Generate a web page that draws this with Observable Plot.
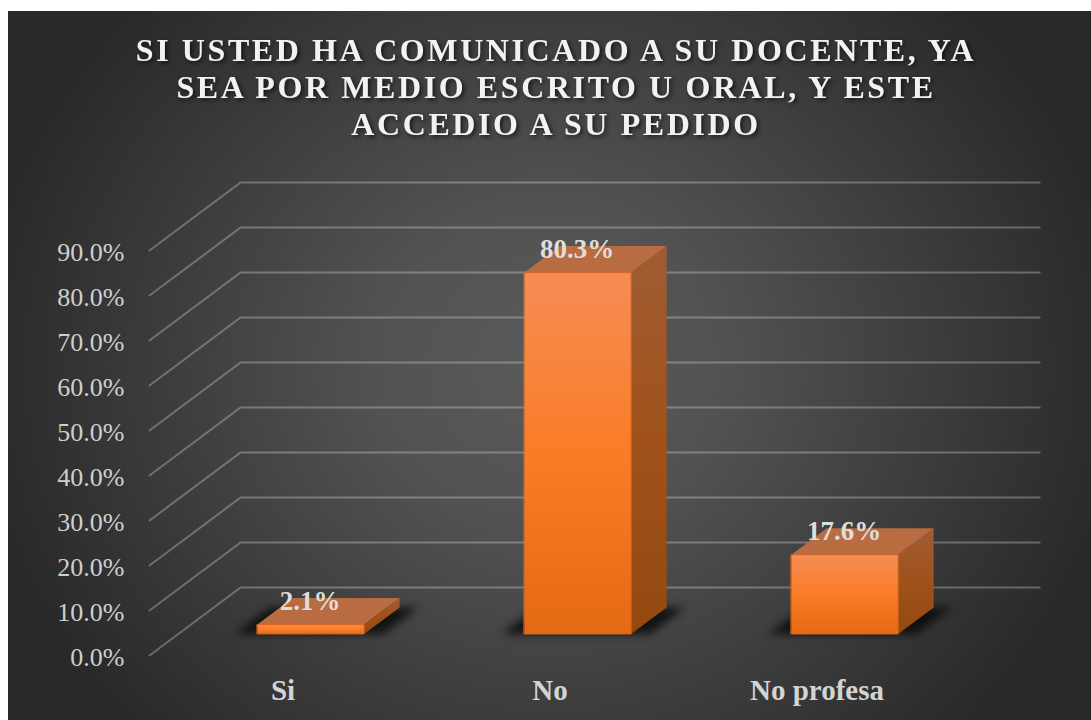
<!DOCTYPE html>
<html><head><meta charset="utf-8">
<script src="https://cdn.jsdelivr.net/npm/d3@7"></script>
<script src="https://cdn.jsdelivr.net/npm/@observablehq/plot@0.6"></script>
<style>html,body{margin:0;padding:0;background:#fff}</style>
</head><body><div id="chart"></div>
<script>
const titleLines = ["SI USTED HA COMUNICADO A SU DOCENTE, YA", "SEA POR MEDIO ESCRITO U ORAL, Y ESTE", "ACCEDIO A SU PEDIDO"];
const categories = ["Si", "No", "No profesa"];
const values = [2.1, 80.3, 17.6];
const valueLabels = ["2.1%", "80.3%", "17.6%"];
const axisTicks = [0, 10, 20, 30, 40, 50, 60, 70, 80, 90];
const slots = categories.map((_, i) => i);
const bars = categories.map((c, i) => ({c, i, v: values[i], label: valueLabels[i]}));

// oblique projection: depth 0 = front plane, 1 = back wall
const X = (x, d) => x + d * 0.341;
const Y = (v, d) => v + d * 15.1;
const D0 = 0.31, D1 = 0.70, HALF = 0.2;

const grid = axisTicks.flatMap(v => [
  {v, x: X(0, 0), y: Y(v, 0)},
  {v, x: X(0, 1), y: Y(v, 1)},
  {v, x: X(2.993, 1), y: Y(v, 1)}
]);
const strip = (fn) => bars.flatMap(b => [D0, D1].map(d => ({c: b.c, ...fn(b, d)})));
const frontFace = strip((b, d) => { const t = d === D0 ? 0 : 1; const l = b.i + .5 - HALF + D0*.341, r = b.i + .5 + HALF + D0*.341;
  return {x: l + t*(r-l), y1: Y(0, D0), y2: Y(b.v, D0)}; });
const sideFace = strip((b, d) => ({x: X(b.i + .5 + HALF, d), y1: Y(0, d), y2: Y(b.v, d)}));
const topFace = strip((b, d) => ({x1: X(b.i + .5 - HALF, d), x2: X(b.i + .5 + HALF, d), y: Y(b.v, d)}));
const shadow = strip((b, d) => ({x1: X(b.i + .5 - HALF - .085, d), x2: X(b.i + .5 + HALF + .07, d), y: Y(0, d)}));

const defs = () => {
  const s = d3.create("svg:defs");
  const grad = (id, stops) => {
    const g = s.append("linearGradient").attr("id", id).attr("x1", 0).attr("x2", 0).attr("y1", 0).attr("y2", 1);
    stops.forEach(([o, c]) => g.append("stop").attr("offset", o).attr("stop-color", c));
  };
  grad("frontG", [[0, "#f58d55"], [0.5, "#fa7c26"], [1, "#e56a14"]]);
  grad("sideG", [[0, "#a05c34"], [0.5, "#a0521a"], [1, "#94480e"]]);
  return s.node();
};
const css = (styles) => (i, s, v, d, c, next) => {
  const g = next(i, s, v, d, c);
  Object.assign(g.style, styles);
  return g;
};

const serif = "'Liberation Serif','Times New Roman',serif";
const chart = Plot.plot({
  width: 1091, height: 720,
  marginLeft: 149, marginRight: 141, marginTop: 0, marginBottom: 65,
  x: {domain: [0, 3], range: [149, 950]},
  y: {domain: [0, 90], range: [655, 250]},
  style: {
    fontFamily: serif, overflow: "visible",
    background: "radial-gradient(ellipse 54% 75% at 50% 50%, #5a5a5a 0%, #525252 30%, #282828 100%) 8px 11px / 1083px 709px no-repeat"
  },
  marks: [
    defs,
    Plot.line(grid, {x: "x", y: "y", z: "v", stroke: "#fff", strokeOpacity: 0.28, strokeWidth: 2, curve: "linear"}),
    Plot.areaX(shadow, {x1: "x1", x2: "x2", y: "y", z: "c", fill: "#0c0c0c", fillOpacity: 0.9, render: css({filter: "blur(4px)"})}),
    Plot.areaY(sideFace, {x: "x", y1: "y1", y2: "y2", z: "c", fill: "url(#sideG)"}),
    Plot.areaX(topFace, {x1: "x1", x2: "x2", y: "y", z: "c", fill: "#b96c41"}),
    Plot.areaY(frontFace, {x: "x", y1: "y1", y2: "y2", z: "c", fill: "url(#frontG)", stroke: "#d9681c", strokeWidth: 1}),
    Plot.axisY(axisTicks, {anchor: "left", label: null, tickSize: 0, tickPadding: 25, fontSize: 26, fontFamily: serif, fill: "#cfcfcf", dy: 2,
      tickFormat: d => d.toFixed(1) + "%"}),
    Plot.axisX(slots.map(i => i + .5), {anchor: "bottom", label: null, tickSize: 0, tickPadding: 24, fontSize: 29, fontFamily: serif, fontWeight: "bold", fill: "#d4d4d4",
      tickFormat: d => categories[Math.floor(d)]}),
    Plot.text(bars, {x: b => X(b.i + .5, D0), y: b => Y(b.v, D0), text: "label", dy: -24, dx: -1, fontSize: 27, fontFamily: serif, fontWeight: "bold", fill: "#dedede"}),
    Plot.text([titleLines.join("\n")], {text: d => d, frameAnchor: "top", lineAnchor: "top", lineHeight: 1.156, dx: 6, dy: 34, fontSize: 32, fontFamily: serif, fontWeight: "bold", fill: "#f2f2f2",
      render: css({letterSpacing: "2.6px", filter: "drop-shadow(2px 2px 2px rgba(0,0,0,.65))"})})
  ]
});
document.getElementById("chart").append(chart);
</script></body></html>
